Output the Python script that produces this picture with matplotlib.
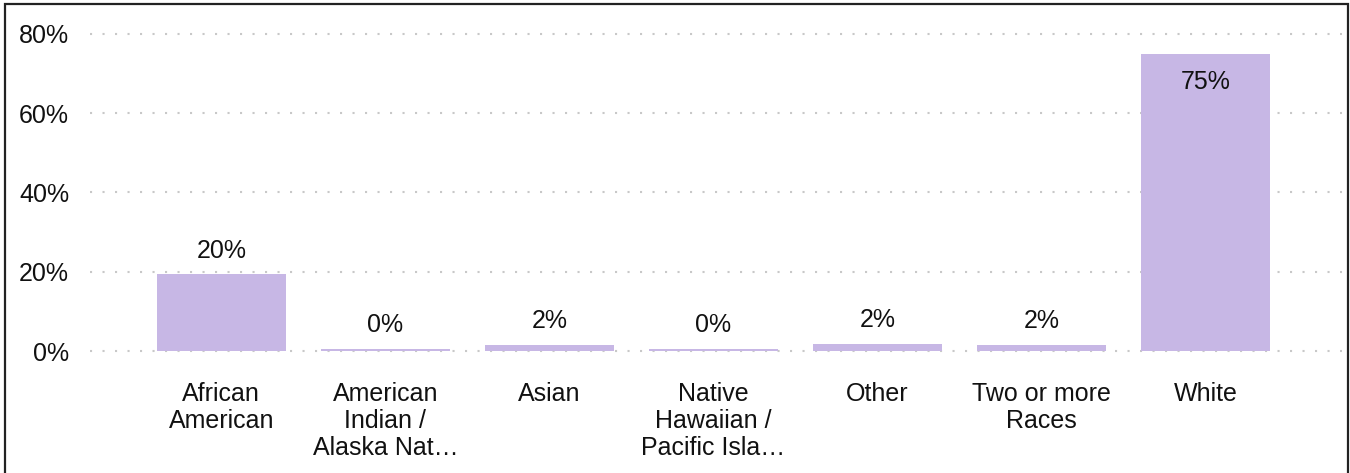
import numpy as np
import matplotlib
matplotlib.use('Agg')
import matplotlib.pyplot as plt
from matplotlib.patches import Rectangle

plt.rcParams['font.family'] = ['Liberation Sans', 'DejaVu Sans']

# data
categories = ['African\nAmerican', 'American\nIndian /\nAlaska Nat\u2026', 'Asian',
              'Native\nHawaiian /\nPacific Isla\u2026', 'Other', 'Two or more\nRaces', 'White']
values = [19.4, 0.5, 1.5, 0.5, 1.8, 1.5, 74.9]
labels = ['20%', '0%', '2%', '0%', '2%', '2%', '75%']
yticks = [0, 20, 40, 60, 80]

bar_color = '#C7B7E5'
fs = 18

W, H = 1350, 473
fig = plt.figure(figsize=(W/100, H/100), dpi=100)
# axes placed in pixel terms
ax = fig.add_axes([90/W, (H-351)/H, (1342-90)/W, (351-34)/H])

x = np.arange(len(categories))
ax.bar(x, values, width=0.787, color=bar_color, zorder=3)

for xi, v, lab in zip(x, values, labels):
    if v > 60:
        ax.annotate(lab, (xi, v), xytext=(0, -20), textcoords='offset points',
                    ha='center', va='center', fontsize=fs, color='#111111', zorder=4)
    else:
        ax.annotate(lab, (xi, v), xytext=(0, 17), textcoords='offset points',
                    ha='center', va='center', fontsize=fs, color='#111111', zorder=4)

ax.set_xlim(-0.80, 6.83)
ax.set_ylim(0, 80)
ax.set_yticks(yticks)
ax.set_yticklabels([f'{t}%' for t in yticks])
ax.set_xticks(x)
ax.set_xticklabels(categories, linespacing=1.17)

ax.tick_params(axis='both', length=0, labelsize=fs, labelcolor='#111111')
ax.tick_params(axis='y', pad=15)
ax.tick_params(axis='x', pad=22)
for s in ax.spines.values():
    s.set_visible(False)

ax.grid(axis='y', color='#c8c8c8', linewidth=1.5, linestyle=(0, (1, 5)), zorder=0)
ax.grid(axis='x', visible=False)
for gl in ax.get_ygridlines():
    gl.set_clip_on(False)

# outer frame
fig.patches.append(Rectangle((5/W, -0.01), (1348-5)/W, (H-4)/H + 0.01,
                             transform=fig.transFigure, fill=False,
                             edgecolor='#222222', linewidth=1.6, clip_on=False))

fig.savefig('out.png', dpi=100)
